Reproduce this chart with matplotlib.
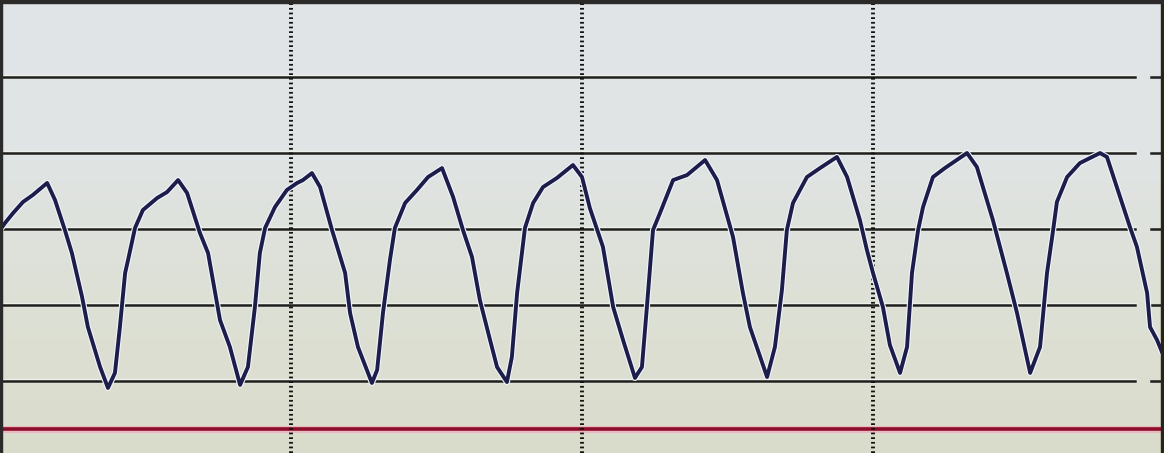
"""
Waveform monitor screen recreation
"""
import numpy as np
import matplotlib
matplotlib.use('Agg')
import matplotlib.pyplot as plt
import matplotlib.patheffects as pe
from matplotlib.colors import LinearSegmentedColormap

# time (s) and signal values
t = [0.000, 0.017, 0.045, 0.079, 0.113, 0.162, 0.189, 0.223, 0.247, 0.282,
     0.302, 0.344, 0.371, 0.395, 0.412, 0.430, 0.440, 0.464, 0.491, 0.540,
     0.574, 0.612, 0.643, 0.687, 0.715, 0.756, 0.790, 0.825, 0.852, 0.876,
     0.893, 0.911, 0.945, 0.986, 1.021, 1.041, 1.072, 1.100, 1.141, 1.186,
     1.203, 1.230, 1.278, 1.296, 1.316, 1.340, 1.357, 1.392, 1.433, 1.471,
     1.519, 1.557, 1.591, 1.622, 1.649, 1.684, 1.708, 1.742, 1.759, 1.777,
     1.804, 1.832, 1.866, 1.914, 1.969, 2.000, 2.027, 2.072, 2.107, 2.141,
     2.182, 2.206, 2.223, 2.244, 2.268, 2.313, 2.361, 2.423, 2.464, 2.519,
     2.553, 2.577, 2.636, 2.663, 2.687, 2.704, 2.725, 2.773, 2.818, 2.876,
     2.911, 2.955, 2.979, 3.000, 3.034, 3.058, 3.093, 3.117, 3.134, 3.155,
     3.172, 3.206, 3.247, 3.323, 3.357, 3.412, 3.460, 3.495, 3.540, 3.574,
     3.598, 3.619, 3.632, 3.667, 3.711, 3.780, 3.804, 3.849, 3.883, 3.907,
     3.942, 3.952, 3.976, 3.993]
signal = [9.93, 10.39, 11.05, 11.78, 12.24, 13.03, 11.91, 9.93, 8.42, 5.53,
          3.55, 0.92, -0.46, 0.53, 3.55, 7.11, 7.96, 10.07, 11.25, 12.04,
          12.43, 13.22, 12.37, 9.74, 8.42, 4.01, 2.24, -0.26, 0.92, 4.87,
          8.42, 10.07, 11.45, 12.57, 13.03, 13.22, 13.68, 12.76, 9.93, 7.11,
          4.47, 2.24, -0.13, 0.72, 4.47, 7.96, 10.07, 11.71, 12.57, 13.42,
          14.01, 12.11, 9.93, 8.16, 5.33, 2.70, 0.92, -0.07, 1.58, 5.79,
          10.07, 11.71, 12.76, 13.36, 14.21, 13.42, 11.38, 8.82, 4.87, 2.70,
          0.20, 0.92, 4.87, 9.93, 11.05, 13.22, 13.55, 14.54, 13.22, 9.47,
          5.79, 3.55, 0.26, 2.24, 5.99, 9.93, 11.71, 13.42, 14.01, 14.74,
          13.42, 10.59, 8.62, 7.11, 4.87, 2.37, 0.53, 2.24, 7.11, 9.93,
          11.45, 13.42, 14.01, 15.00, 14.08, 10.59, 7.11, 4.47, 0.53, 2.24,
          7.11, 9.93, 11.78, 13.42, 14.34, 15.00, 14.74, 12.11, 10.13, 8.82,
          5.79, 3.55, 2.70, 1.91]

grid_levels = [0, 5, 10, 15, 20]
time_marks = [1.0, 2.0, 3.0]
baseline = -3.16

x_min, x_max = 0.0, 4.0
y_min, y_max = -4.74, 25.07

fig = plt.figure(figsize=(11.64, 4.53), dpi=100)
ax = fig.add_axes([0, 0, 1, 1])
ax.set_xlim(x_min, x_max)
ax.set_ylim(y_min, y_max)
ax.axis('off')

# screen background, bluish grey at top fading to pale beige at bottom
bg = LinearSegmentedColormap.from_list('screen', ['#dadccb', '#dde0d5', '#e0e4e4', '#e1e5e8'])
grad = np.linspace(0, 1, 256).reshape(-1, 1)
ax.imshow(grad, cmap=bg, aspect='auto', origin='lower',
          extent=[x_min, x_max, y_min, y_max], zorder=0)

# horizontal grid lines + short ticks at the right edge
for lv in grid_levels:
    ax.plot([x_min, 3.900], [lv, lv], color='#1e1e1c', lw=1.8, zorder=2,
            path_effects=[pe.Stroke(linewidth=3.2, foreground='#eef0ec'), pe.Normal()])
    ax.plot([3.957, 3.99], [lv, lv], color='#1e1e1c', lw=1.8, zorder=2)

# dotted time markers
for tm in time_marks:
    ax.axvline(tm, color='#111111', lw=2.8, linestyle=(0, (0.45, 0.75)), zorder=3)

# red baseline
ax.plot([x_min, 3.99], [baseline, baseline], color='#8c0d29', lw=2.6, zorder=2,
        path_effects=[pe.Stroke(linewidth=5, foreground='#eab8c2'), pe.Normal()])

# the trace
ax.plot(t, signal, color='#1c1d4a', lw=2.8, zorder=4, solid_joinstyle='round',
        path_effects=[pe.Stroke(linewidth=4.4, foreground='#f2f4fa'), pe.Normal()])

# screen frame edges
ax.axvspan(3.988, x_max, color='#2a2418', zorder=5)
ax.axvspan(x_min, 0.006, color='#2a2a2a', zorder=5)
ax.axhspan(24.9, y_max, color='#2b2a28', zorder=5)

plt.savefig('out.png', dpi=100)
